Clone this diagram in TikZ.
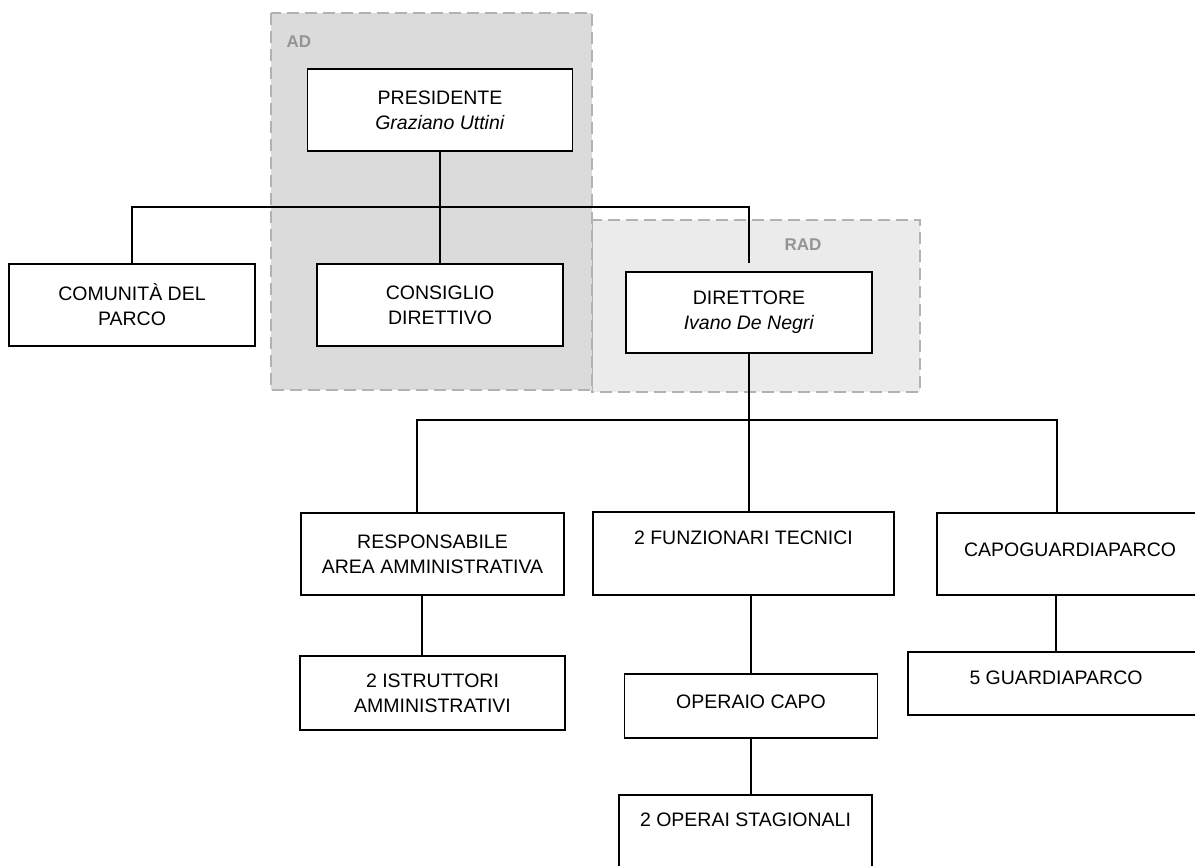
\documentclass[tikz,border=0pt]{standalone}
\usepackage{fontspec}
\setmainfont{Liberation Sans}
\begin{document}
\begin{tikzpicture}[x=1pt, y=-1pt,
		orgbox/.style={draw, fill=white, line width=1.5pt, align=center, inner sep=2pt, minimum height=82pt, font=\fontsize{19.5}{25}\selectfont},
		link/.style={line width=1.5pt},
		area/.style={draw=black!30, line width=2.5pt, dash pattern=on 12pt off 6pt},
		arealabel/.style={text=black!42, font=\fontsize{17}{20}\selectfont\bfseries}]
		\useasboundingbox (0, 0) rectangle (1195, 866);

		\draw[area, fill=black!8] (592, 220) rectangle (920, 392);
		\draw[area, fill=black!14] (271, 13) rectangle (592, 390);
		\node[arealabel, anchor=west] (adlabel) at (283, 42) {AD};
		\node[arealabel] (radlabel) at (803, 245) {RAD};

		\node[orgbox, minimum width=265pt] (pres) at (440, 110) {PRESIDENTE\\ \textit{Graziano Uttini}};
		\node[orgbox, minimum width=246pt] (cons) at (440, 305) {CONSIGLIO\\ DIRETTIVO};
		\node[orgbox, minimum width=246pt] (com) at (132, 305) {COMUNITÀ DEL\\ PARCO};
		\node[orgbox, minimum width=246pt, minimum height=81pt] (dir) at (749, 312.5) {DIRETTORE\\ \textit{Ivano De Negri}};

		\node[orgbox, minimum width=263pt] (resp) at (432.5, 554) {RESPONSABILE\\ AREA AMMINISTRATIVA};
		\node[orgbox, minimum width=301pt, minimum height=83pt] (funz) at (743.5, 553.5) {2 FUNZIONARI TECNICI\\ \strut};
		\node[orgbox, minimum width=266pt, text depth=8pt] (capog) at (1070, 554) {CAPOGUARDIAPARCO};

		\node[orgbox, minimum width=265pt, minimum height=74pt] (istr) at (432.5, 693) {2 ISTRUTTORI\\ AMMINISTRATIVI};
		\node[orgbox, minimum width=253pt, minimum height=64pt, text depth=8pt] (opcapo) at (751, 706) {OPERAIO CAPO};
		\node[orgbox, minimum width=253pt] (operai) at (745.5, 836) {2 OPERAI STAGIONALI\\ \strut};
		\node[orgbox, minimum width=296pt, minimum height=63pt, text depth=11pt] (guard) at (1056, 683.5) {5 GUARDIAPARCO};

		\coordinate (topbus) at (440, 207);
		\coordinate (dirin) at (749, 263);
		\coordinate (lowbus) at (749, 420);

		\draw[link] (pres) -- (cons);
		\draw[link] (com.north) |- (topbus) -| (dirin);
		\draw[link] (dir.south) -- (lowbus);
		\draw[link] (lowbus) -| ([xshift=-15.5pt]resp.north);
		\draw[link] (lowbus) -- (lowbus |- funz.north);
		\draw[link] (lowbus) -| ([xshift=-13pt]capog.north);

		\draw[link] ([xshift=-10.5pt]resp.south) -- ([xshift=-10.5pt]istr.north);
		\draw[link] (funz.south -| opcapo.north) -- (opcapo.north);
		\draw[link] (opcapo.south) -- (opcapo.south |- operai.north);
		\draw[link] (guard.north |- capog.south) -- (guard.north);
	\end{tikzpicture}
\end{document}
